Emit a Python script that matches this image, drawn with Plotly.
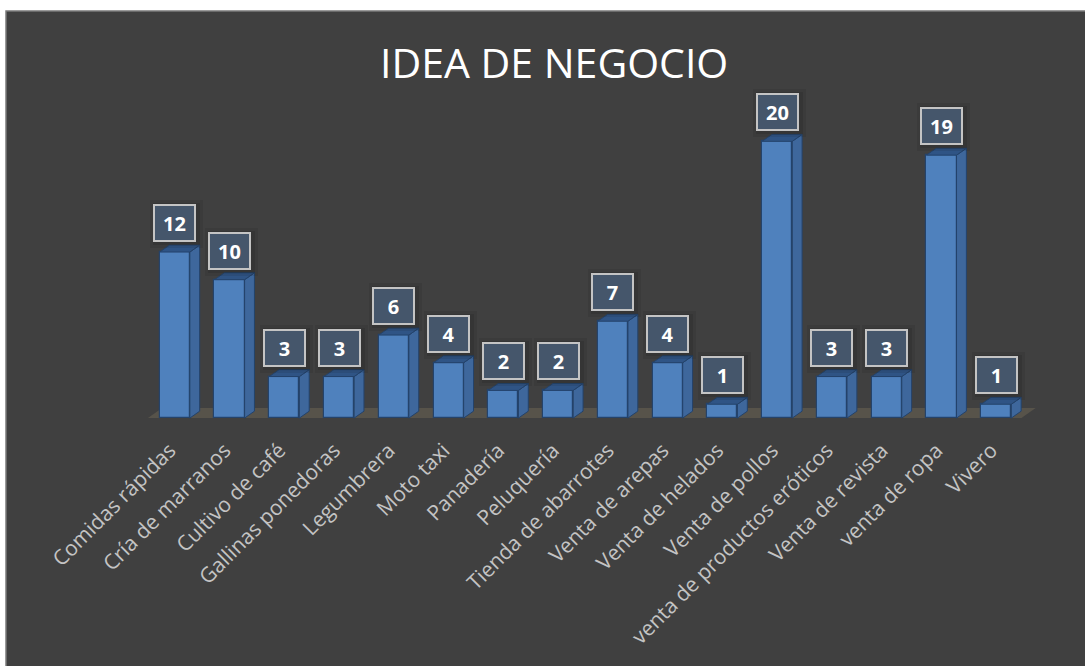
import plotly.graph_objects as go

# Business ideas and how many people chose each one
categories = [
    "Comidas rápidas", "Cría de marranos", "Cultivo de café", "Gallinas ponedoras",
    "Legumbrera", "Moto taxi", "Panadería", "Peluquería", "Tienda de abarrotes",
    "Venta de arepas", "Venta de helados", "Venta de pollos",
    "venta de productos eróticos", "Venta de revista", "venta de ropa", "Vivero",
]
values = [12, 10, 3, 3, 6, 4, 2, 2, 7, 4, 1, 20, 3, 3, 19, 1]

W, H = 1085, 666
ML, MR, MT, MB = 120, 34, 86, 241
X_RANGE = [-1, 16]
Y_RANGE = [-0.5, 24]
PW, PH = W - ML - MR, H - MT - MB


def px_to_paper_x(px):
    return (px - ML) / PW


def px_to_paper_y(py):
    return 1 - (py - MT) / PH


BAR_W = 0.55          # front face width (x units)
DX, DY = 0.18, 0.5    # depth offset for the 3D look
FRONT = "#4F81BD"
SIDE = "#3E679C"
TOP = "#2F5485"
EDGE = "#24436B"

xs = list(range(len(categories)))

fig = go.Figure()

# front faces
fig.add_trace(go.Bar(
    x=xs, y=values, width=BAR_W,
    marker=dict(color=FRONT, line=dict(color=EDGE, width=1.2)),
    hoverinfo="skip", showlegend=False,
))

# side and top faces
sx, sy, tx, ty = [], [], [], []
for x, v in zip(xs, values):
    r = x + BAR_W / 2
    l = x - BAR_W / 2
    sx += [r, r + DX, r + DX, r, r, None]
    sy += [0, DY, v + DY, v, 0, None]
    tx += [l, r, r + DX, l + DX, l, None]
    ty += [v, v, v + DY, v + DY, v, None]

fig.add_trace(go.Scatter(x=sx, y=sy, mode="lines", fill="toself", fillcolor=SIDE,
                         line=dict(color=EDGE, width=1), hoverinfo="skip", showlegend=False))
fig.add_trace(go.Scatter(x=tx, y=ty, mode="lines", fill="toself", fillcolor=TOP,
                         line=dict(color=EDGE, width=1), hoverinfo="skip", showlegend=False))

# chart area background with thin border
fig.add_shape(type="rect", xref="paper", yref="paper",
              x0=px_to_paper_x(6), x1=px_to_paper_x(W + 20),
              y0=px_to_paper_y(H + 20), y1=px_to_paper_y(11),
              fillcolor="#404040", line=dict(color="#7A7A7A", width=1.5), layer="below")

# floor under the bars
n = len(categories)
fx0, fx1 = -0.49, n - 1 + 0.46
fdx, fdy = 0.26, 0.72
fig.add_shape(type="path", xref="x", yref="y",
              path=f"M {fx0},0 L {fx1},0 L {fx1 + fdx},{fdy} L {fx0 + fdx},{fdy} Z",
              fillcolor="#57534A", line=dict(width=0), layer="below")

# value labels in boxes, each with a soft shadow behind it
for x, v in zip(xs, values):
    for grow, alpha in ((14, 0.10), (8, 0.14)):
        fig.add_annotation(
            x=x, y=v + DY, xref="x", yref="y", text="",
            showarrow=False, yanchor="bottom", yshift=3 - grow / 2 + 1, xshift=2,
            bgcolor=f"rgba(20,20,20,{alpha})", borderwidth=0, borderpad=0,
            width=39 + grow, height=34 + grow,
        )
    fig.add_annotation(
        x=x, y=v + DY, xref="x", yref="y", text=f"<b>{v}</b>",
        showarrow=False, yanchor="bottom", yshift=3,
        font=dict(family="Open Sans", size=20, color="white"),
        bgcolor="#45566B", bordercolor="#C4C4C4", borderwidth=2, borderpad=2,
        width=35, height=30,
    )

# title
fig.add_annotation(
    text="IDEA DE NEGOCIO", xref="paper", yref="paper",
    x=px_to_paper_x(554), y=px_to_paper_y(62), xanchor="center", yanchor="middle",
    showarrow=False, font=dict(family="Open Sans", size=41, color="white"),
)

fig.update_layout(
    width=W, height=H,
    margin=dict(l=ML, r=MR, t=MT, b=MB),
    paper_bgcolor="white", plot_bgcolor="rgba(0,0,0,0)",
    bargap=0,
    xaxis=dict(range=X_RANGE, tickmode="array", tickvals=xs, ticktext=categories,
               tickangle=-45, showgrid=False, zeroline=False, showline=False, ticks="",
               ticklabelstandoff=8, ticklabelshift=-5,
               tickfont=dict(family="Open Sans", size=21, color="#C4C4C4")),
    yaxis=dict(range=Y_RANGE, visible=False, showgrid=False, zeroline=False),
)

fig.write_html("out.html")
